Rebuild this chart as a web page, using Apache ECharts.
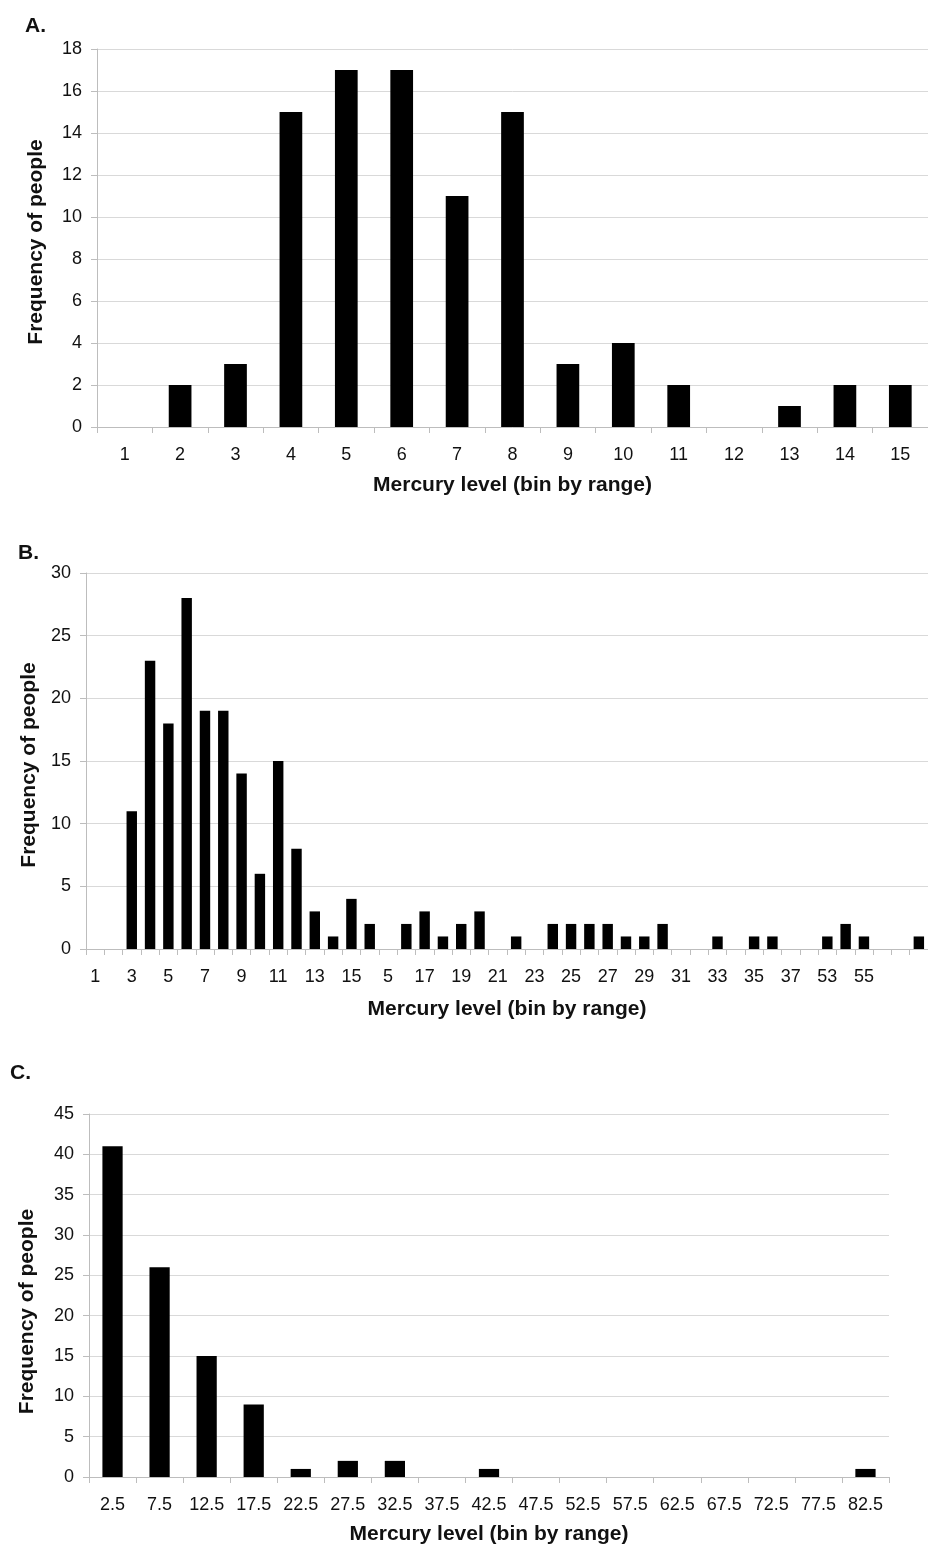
<!DOCTYPE html>
<html>
<head>
<meta charset="utf-8">
<script src="https://cdn.jsdelivr.net/npm/echarts@6/dist/echarts.min.js"></script>
<style>
html,body{margin:0;padding:0;background:#fff;}
#chart{width:928px;height:1551px;}
</style>
</head>
<body>
<div id="chart"></div>
<script>
// ---- Data ----
const catsA = ['1','2','3','4','5','6','7','8','9','10','11','12','13','14','15'];
const valsA = [0,2,3,15,17,17,11,15,3,4,2,0,1,2,2];

const catsB = ['1','2','3','4','5','6','7','8','9','10','11','12','13','14','15','16','5',
  '16','17','18','19','20','21','22','23','24','25','26','27','28','29','30','31','32','33','34','35','36','37','38',
  '53','54','55','56','','58'];
const valsB = [0,0,11,23,18,28,19,19,14,6,15,8,3,1,4,2,0,2,3,1,2,3,0,1,0,2,2,2,2,1,1,2,0,0,1,0,1,1,0,0,1,2,1,0,0,1];

const catsC = ['2.5','7.5','12.5','17.5','22.5','27.5','32.5','37.5','42.5','47.5','52.5','57.5','62.5','67.5','72.5','77.5','82.5'];
const valsC = [41,26,15,9,1,2,2,0,1,0,0,0,0,0,0,0,1];

const panelLabels = ['A.','B.','C.'];
const xTitle = 'Mercury level (bin by range)';
const yTitle = 'Frequency of people';

// ---- Styles ----
const FONT = '"Liberation Sans", Arial, sans-serif';
const axisGray = '#bdbdbd';
const gridGray = '#d9d9d9';
const txt = '#111';

function xAx(idx, cats, labelInterval, nameGap) {
  return {
    type: 'category', gridIndex: idx, data: cats,
    axisLine: { show: true, lineStyle: { color: axisGray, width: 1 } },
    axisTick: { show: true, length: 6, interval: 0, lineStyle: { color: axisGray } },
    axisLabel: { interval: labelInterval, margin: 19, fontSize: 18, color: txt, fontFamily: FONT },
    splitLine: { show: false },
    name: xTitle, nameLocation: 'middle', nameGap: nameGap,
    nameTextStyle: { fontSize: 21, fontWeight: 'bold', color: txt, fontFamily: FONT }
  };
}
function yAx(idx, max, interval, nameGap, shiftPad) {
  return {
    type: 'value', gridIndex: idx, min: 0, max: max, interval: interval,
    axisLine: { show: true, lineStyle: { color: axisGray, width: 1 } },
    axisTick: { show: true, length: 6, lineStyle: { color: axisGray } },
    axisLabel: { margin: 15, fontSize: 18, color: txt, fontFamily: FONT },
    splitLine: { show: true, lineStyle: { color: gridGray, width: 1 } },
    name: yTitle, nameLocation: 'middle', nameGap: nameGap, nameRotate: 90,
    nameTextStyle: { fontSize: 21, fontWeight: 'bold', color: txt, fontFamily: FONT, padding: [0, shiftPad, 0, 0] }
  };
}
function bars(idx, vals, bw) {
  return {
    type: 'bar', xAxisIndex: idx, yAxisIndex: idx, data: vals,
    barWidth: bw, itemStyle: { color: '#000' }, silent: true, animation: false
  };
}

const chart = echarts.init(document.getElementById('chart'), null, { renderer: 'canvas' });
chart.setOption({
  animation: false,
  backgroundColor: '#fff',
  textStyle: { fontFamily: FONT },
  title: [
    { text: panelLabels[0], left: 20, top: 11, textStyle: { fontSize: 21, fontWeight: 'bold', color: txt, fontFamily: FONT } },
    { text: panelLabels[1], left: 13, top: 538, textStyle: { fontSize: 21, fontWeight: 'bold', color: txt, fontFamily: FONT } },
    { text: panelLabels[2], left: 5, top: 1058, textStyle: { fontSize: 21, fontWeight: 'bold', color: txt, fontFamily: FONT } }
  ],
  grid: [
    { left: 97, top: 49, width: 838, height: 378 },
    { left: 86, top: 573, width: 845, height: 376 },
    { left: 89, top: 1114, width: 800, height: 363 }
  ],
  xAxis: [ xAx(0, catsA, 0, 48), xAx(1, catsB, 1, 50), xAx(2, catsC, 0, 47) ],
  yAxis: [ yAx(0, 18, 2, 50, 8), yAx(1, 30, 5, 46, 8), yAx(2, 45, 5, 51, 32) ],
  series: [ bars(0, valsA, '41%'), bars(1, valsB, '57%'), bars(2, valsC, '43%') ]
});
</script>
</body>
</html>
